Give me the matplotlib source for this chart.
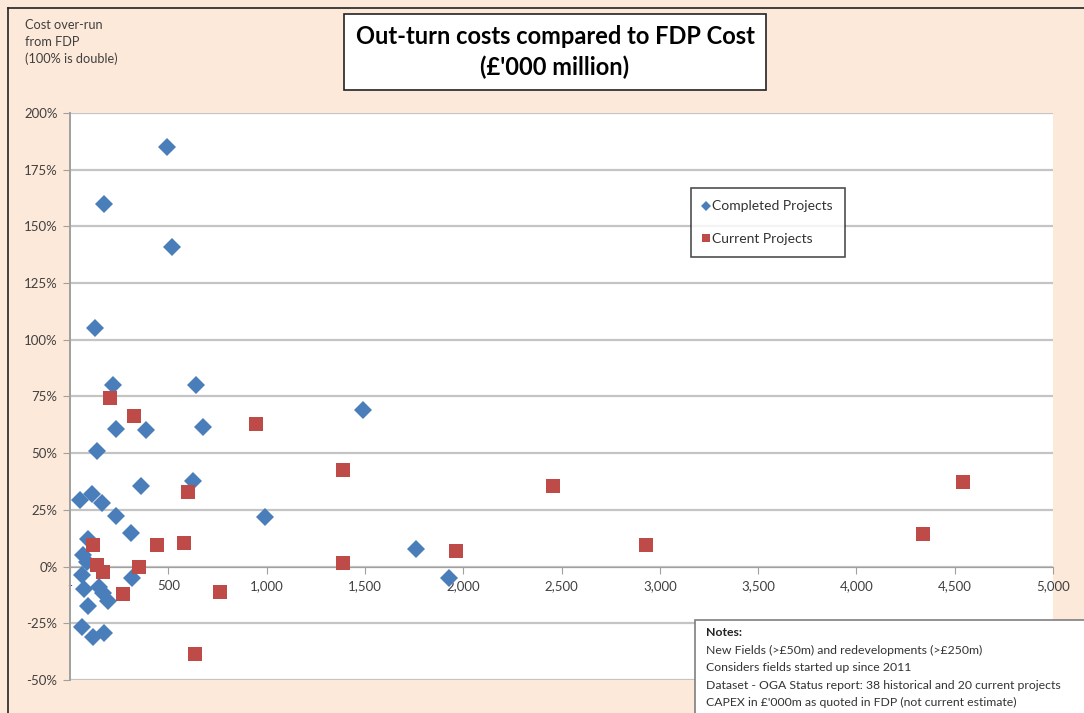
import matplotlib.pyplot as plt
from matplotlib.patches import Rectangle
from matplotlib.lines import Line2D

plt.rcParams['font.family'] = ['Lato', 'DejaVu Sans']

# FDP cost (£'000 million) and cost over-run (%)
completed_x = [495, 173, 520, 127, 219, 641, 234, 387, 675, 139, 1492, 360, 624,
               51, 110, 161, 234, 309, 992, 93, 68, 85, 1760, 1928, 60, 71, 149,
               169, 195, 314, 93, 60, 119, 173]
completed_y = [185, 160, 141, 105, 80, 80, 60.5, 60.3, 61.7, 51, 69, 35.5, 37.7,
               29.5, 32, 28, 22.2, 15, 22, 12, 5, 2.2, 7.6, -5, -3.7, -10, -8.9,
               -11.8, -15, -5.2, -17.4, -26.5, -30.9, -29.1]

current_x = [203, 326, 946, 1390, 1390, 2457, 1963, 2930, 4339, 4542, 602, 115,
             441, 580, 136, 166, 352, 268, 763, 636]
current_y = [74.3, 66.4, 62.8, 42.6, 1.5, 35.5, 6.9, 9.5, 14.4, 37.1, 33, 9.5,
             9.5, 10.3, 0.7, -2.2, -0.3, -12.1, -11, -38.7]

x_ticks = [0, 500, 1000, 1500, 2000, 2500, 3000, 3500, 4000, 4500, 5000]
x_labels = ['-', '500', '1,000', '1,500', '2,000', '2,500', '3,000', '3,500',
            '4,000', '4,500', '5,000']
y_ticks = [-50, -25, 0, 25, 50, 75, 100, 125, 150, 175, 200]

notes = ["New Fields (>£50m) and redevelopments (>£250m)",
         "Considers fields started up since 2011",
         "Dataset - OGA Status report: 38 historical and 20 current projects",
         "CAPEX in £'000m as quoted in FDP (not current estimate)"]

W, H = 1084, 713


def px(x, y):
    return x / W, 1 - y / H


fig = plt.figure(figsize=(W / 100, H / 100), dpi=100)
fig.patch.set_facecolor('#fde9d9')

# chart area border (top + left visible)
fig.add_artist(Line2D([8 / W, 8 / W], [0, 1 - 8 / H], color='#222222', lw=1.2))
fig.add_artist(Line2D([8 / W, 1], [1 - 8 / H, 1 - 8 / H], color='#222222', lw=1.2))

ax = fig.add_axes([70 / W, 1 - 680 / H, (1053 - 70) / W, (680 - 113) / H])
ax.set_facecolor('white')

for yv in y_ticks:
    ax.axhline(yv, color='#c4c4c4', lw=1.6, zorder=1)

ax.plot(completed_x, completed_y, linestyle='none', marker='D', markersize=8.8,
        color='#4a7ebb', markeredgewidth=0, zorder=3, label='Completed Projects')
ax.plot(current_x, current_y, linestyle='none', marker='s', markersize=10.5,
        color='#be4b48', markeredgewidth=0, zorder=3, label='Current Projects')

ax.set_xlim(0, 5000)
ax.set_ylim(-50, 200)
ax.set_xticks(x_ticks)
ax.set_xticklabels(x_labels)
ax.set_yticks(y_ticks)
ax.set_yticklabels([f"{v}%" for v in y_ticks])

ax.spines['bottom'].set_position(('data', 0))
ax.spines['bottom'].set_color('#a0a0a0')
ax.spines['bottom'].set_zorder(2)
ax.spines['left'].set_color('#a0a0a0')
ax.spines['left'].set_linewidth(1.4)
ax.spines['top'].set_visible(False)
ax.spines['right'].set_visible(False)
ax.tick_params(axis='both', colors='#a0a0a0', labelcolor='#404040',
               labelsize=9.5, length=5)
ax.tick_params(axis='x', pad=5)
ax.tick_params(axis='y', pad=4)

leg = ax.legend(loc='upper left', bbox_to_anchor=(0.6245, 0.88), frameon=True,
                fancybox=False, fontsize=10, handlelength=0.4, handletextpad=0.2,
                labelspacing=1.45, borderpad=0.9, markerscale=0.6)
leg.get_frame().set_edgecolor('#222222')
leg.get_frame().set_linewidth(1.2)
for t in leg.get_texts():
    t.set_color('#333333')

# title box
fig.text(*px(555, 52), "Out-turn costs compared to FDP Cost\n(£'000 million)",
         ha='center', va='center', fontsize=17, fontweight='bold',
         linespacing=1.35,
         bbox=dict(boxstyle='square,pad=0.5', facecolor='white',
                   edgecolor='#222222', linewidth=1.2))

fig.text(*px(25, 19), "Cost over-run\nfrom FDP\n(100% is double)", ha='left',
         va='top', fontsize=9.2, color='#404040', linespacing=1.45)

# notes box
fig.add_artist(Rectangle(px(695, 730), (1100 - 695) / W, (730 - 620) / H,
                         transform=fig.transFigure, facecolor='white',
                         edgecolor='#7f7f7f', linewidth=1.2, zorder=5))
fig.text(*px(706, 627), "Notes:", ha='left', va='top', fontsize=8.8,
         fontweight='bold', color='#222222', zorder=6)
for i, line in enumerate(notes):
    fig.text(*px(706, 645 + i * 17.3), line, ha='left', va='top', fontsize=8.8,
             color='#333333', zorder=6)

fig.savefig('out.png', dpi=100, facecolor=fig.get_facecolor())
